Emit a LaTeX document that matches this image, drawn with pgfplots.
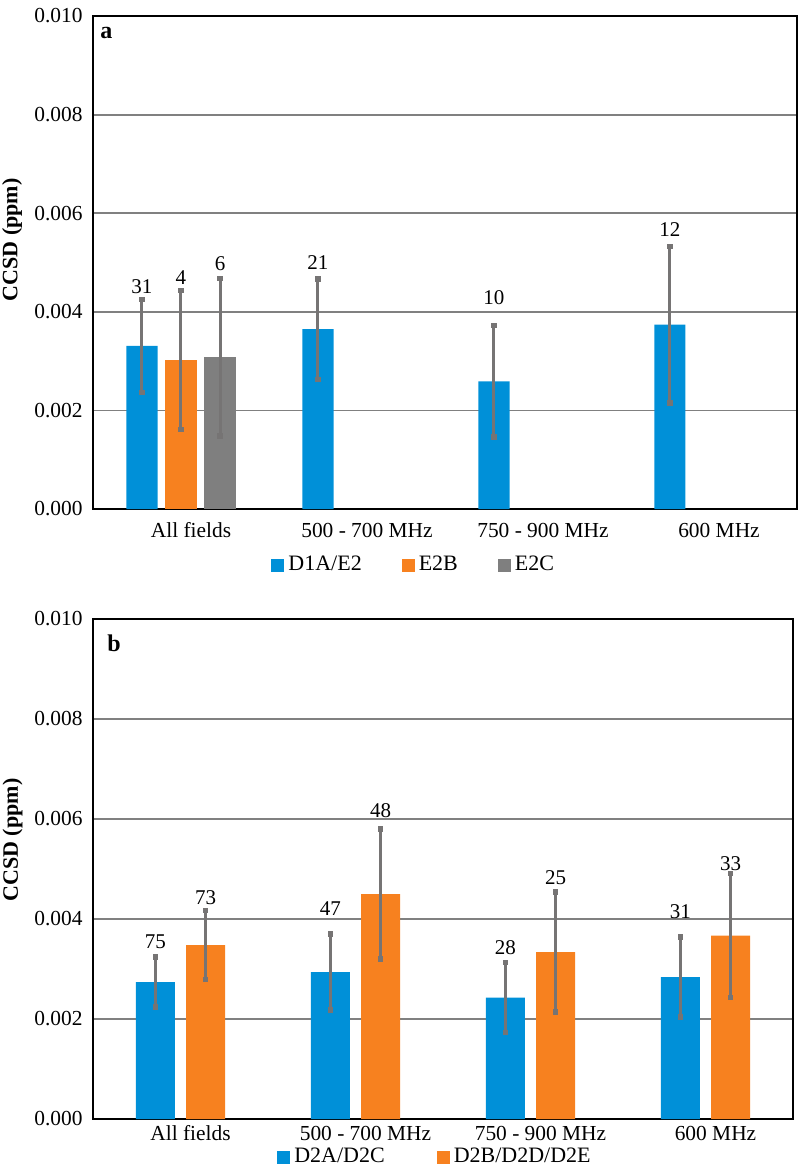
\documentclass[border=0pt]{standalone}
\usepackage{pgfplots}
\pgfplotsset{compat=1.18}
\usepackage{pgfplotstable}
\usepackage{fontspec}
\setmainfont{Liberation Serif}
\definecolor{cblue}{RGB}{0,144,216}
\definecolor{corange}{RGB}{247,129,31}
\definecolor{cgray}{RGB}{127,127,127}
\definecolor{cerr}{RGB}{118,116,116}
\definecolor{cgrid}{RGB}{128,128,128}

% x = category index (0..3) + bar offset
\pgfplotstableread{
x y e
-0.222 0.00331 0.00094
0.778 0.00365 0.00102
1.778 0.00259 0.00113
2.778 0.00374 0.00159
}\aBlue
\pgfplotstableread{
x y e
0 0.00302 0.00141
}\aOrange
\pgfplotstableread{
x y e
0.222 0.00308 0.00160
}\aGray
\pgfplotstableread{
x y e
-0.143 0.00274 0.00050
0.857 0.00294 0.00076
1.857 0.00243 0.00070
2.857 0.00284 0.00080
}\bBlue
\pgfplotstableread{
x y e
0.143 0.00348 0.00069
1.143 0.00450 0.00130
2.143 0.00334 0.00120
3.143 0.00367 0.00124
}\bOrange

\pgfplotsset{
  ccsd/.style={
    scale only axis,
    anchor=south west,
    xmin=-0.5, xmax=3.5,
    ymin=0, ymax=0.010,
    ytick={0,0.002,0.004,0.006,0.008,0.010},
    scaled y ticks=false,
    yticklabel style={/pgf/number format/.cd, fixed, fixed zerofill, precision=3, /tikz/.cd, font=\fontsize{10.7}{12}\selectfont, inner sep=0pt, xshift=-5pt},
    /pgf/number format/assume math mode=true,
    xtick={0,1,2,3},
    xticklabels={All fields, 500 - 700 MHz, 750 - 900 MHz, 600 MHz},
    major tick length=0pt,
    tick style={draw=none},
    ymajorgrids,
    grid style={cgrid, line width=0.9pt},
    axis line style={black, line width=1.3pt},
    ylabel={\bfseries CCSD (ppm)},
    ylabel style={font=\fontsize{11}{13}\selectfont, anchor=center},
    legend columns=-1,
    legend style={draw=none, fill=none, font=\fontsize{11}{13}\selectfont, anchor=center, inner sep=0pt,
      /tikz/every even column/.append style={column sep=18pt}},
    legend image code/.code={\fill[##1] (0pt,-3.25pt) rectangle (6.5pt,3.25pt);},
    errb/.style={error bars/.cd, y dir=both, y explicit,
      error mark=square*,
      error bar style={cerr, line width=1.5pt},
      error mark options={cerr, fill=cerr, line width=0.4pt, mark size=1.1pt}},
  }
}

\begin{document}
\begin{tikzpicture}
\useasboundingbox (0,0) rectangle (400pt,-584.5pt);

% Panel a
\begin{axis}[ccsd,
  at={(46.5pt,-254.5pt)},
  width=352pt, height=246.5pt,
  xticklabel style={font=\fontsize{10.7}{12}\selectfont, anchor=center, inner sep=0pt, yshift=-10.5pt, xshift=5pt},
  ylabel style={at={(axis description cs:-0.115,0.546)}},
  legend style={at={(axis description cs:0.457,-0.1136)}},
]
\addplot[ybar, bar width=0.177, bar shift=0, fill=cblue, draw=none, errb]
  table[x=x, y=y, y error=e] {\aBlue};
\addlegendentry{D1A/E2}
\addplot[ybar, bar width=0.177, bar shift=0, fill=corange, draw=none, errb]
  table[x=x, y=y, y error=e] {\aOrange};
\addlegendentry{E2B}
\addplot[ybar, bar width=0.177, bar shift=0, fill=cgray, draw=none, errb]
  table[x=x, y=y, y error=e] {\aGray};
\addlegendentry{E2C}
\begin{scope}[every node/.style={font=\fontsize{10.5}{12}\selectfont, inner sep=0pt}]
\node at (axis cs:-0.222,0.00452) {31};
\node at (axis cs:0,0.00470) {4};
\node at (axis cs:0.222,0.00497) {6};
\node at (axis cs:0.778,0.00500) {21};
\node at (axis cs:1.778,0.00428) {10};
\node at (axis cs:2.778,0.00566) {12};
\end{scope}
\node[font=\fontsize{12}{14}\selectfont\bfseries, inner sep=0pt] at (axis description cs:0.019,0.966) {a};
\end{axis}

% Panel b
\begin{axis}[ccsd,
  at={(46.5pt,-559.5pt)},
  width=350pt, height=250pt,
  xticklabel style={font=\fontsize{10.7}{12}\selectfont, anchor=center, inner sep=0pt, yshift=-7pt, xshift=5pt},
  ylabel style={at={(axis description cs:-0.115,0.558)}},
  legend style={at={(axis description cs:0.49,-0.076)}, /tikz/every even column/.append style={column sep=24pt}},
]
\addplot[ybar, bar width=0.223, bar shift=0, fill=cblue, draw=none, errb]
  table[x=x, y=y, y error=e] {\bBlue};
\addlegendentry{D2A/D2C}
\addplot[ybar, bar width=0.223, bar shift=0, fill=corange, draw=none, errb]
  table[x=x, y=y, y error=e] {\bOrange};
\addlegendentry{D2B/D2D/D2E}
\begin{scope}[every node/.style={font=\fontsize{10.5}{12}\selectfont, inner sep=0pt}]
\node at (axis cs:-0.143,0.00354) {75};
\node at (axis cs:0.143,0.00442) {73};
\node at (axis cs:0.857,0.00420) {47};
\node at (axis cs:1.143,0.00616) {48};
\node at (axis cs:1.857,0.00342) {28};
\node at (axis cs:2.143,0.00482) {25};
\node at (axis cs:2.857,0.00414) {31};
\node at (axis cs:3.143,0.00510) {33};
\end{scope}
\node[font=\fontsize{12}{14}\selectfont\bfseries, inner sep=0pt] at (axis description cs:0.03,0.952) {b};
\end{axis}
\end{tikzpicture}
\end{document}
